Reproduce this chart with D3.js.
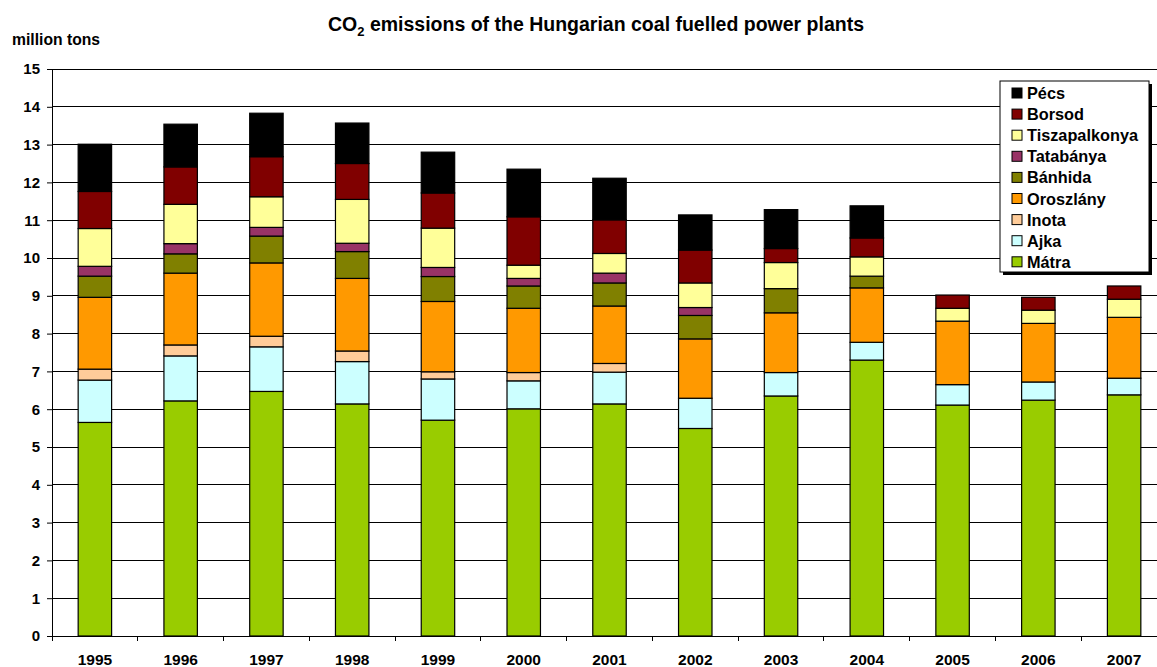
<!DOCTYPE html>
<html>
<head>
<meta charset="utf-8">
<script src="https://cdn.jsdelivr.net/npm/d3@7"></script>
<style>
  body { margin: 0; background: #fff; }
  svg { display: block; font-family: Arial, "Liberation Sans", sans-serif; font-weight: bold; }
</style>
</head>
<body>
<svg id="chart" width="1157" height="667"></svg>
<script>
// years on the x axis
const years = ["1995", "1996", "1997", "1998", "1999", "2000", "2001", "2002", "2003", "2004", "2005", "2006", "2007"];

// plants, bottom to top
const plants = ["Mátra", "Ajka", "Inota", "Oroszlány", "Bánhida", "Tatabánya", "Tiszapalkonya", "Borsod", "Pécs"];
const colors = ["#99cc00", "#ccffff", "#ffcc99", "#ff9900", "#808000", "#993366", "#ffff99", "#800000", "#000000"];

// million tons
const matra     = [5.65, 6.22, 6.47, 6.14, 5.71, 6.01, 6.14, 5.49, 6.35, 7.30, 6.11, 6.24, 6.38];
const ajka      = [1.12, 1.19, 1.18, 1.12, 1.09, 0.74, 0.84, 0.80, 0.62, 0.47, 0.54, 0.48, 0.44];
const inota     = [0.29, 0.29, 0.28, 0.28, 0.19, 0.22, 0.23, 0, 0, 0, 0, 0, 0];
const oroszlany = [1.90, 1.90, 1.94, 1.92, 1.86, 1.70, 1.52, 1.57, 1.58, 1.44, 1.68, 1.55, 1.61];
const banhida   = [0.56, 0.51, 0.71, 0.71, 0.66, 0.59, 0.61, 0.62, 0.64, 0.31, 0, 0, 0];
const tatabanya = [0.26, 0.27, 0.23, 0.22, 0.24, 0.20, 0.26, 0.21, 0, 0, 0, 0, 0];
const tisza     = [1.00, 1.04, 0.81, 1.16, 1.04, 0.35, 0.52, 0.65, 0.69, 0.51, 0.34, 0.35, 0.48];
const borsod    = [0.98, 0.99, 1.06, 0.95, 0.93, 1.28, 0.89, 0.87, 0.37, 0.50, 0.35, 0.34, 0.35];
const pecs      = [1.25, 1.13, 1.15, 1.07, 1.08, 1.26, 1.10, 0.93, 1.03, 0.85, 0, 0, 0];

const series = [matra, ajka, inota, oroszlany, banhida, tatabanya, tisza, borsod, pecs];
const yTicks = d3.range(0, 16);

const svg = d3.select("#chart");
const plotLeft = 52, plotTop = 69, plotBottom = 636, plotRight = 1167;

const x = d3.scaleBand().domain(years).range([plotLeft, plotRight]).paddingInner(0.61).paddingOuter(0.305);
const y = d3.scaleLinear().domain([0, 15]).range([plotBottom, plotTop]);

// rows for the stack
const rows = years.map((yr, i) => {
    let r = { year: yr };
    plants.forEach((p, j) => { r[p] = series[j][i]; });
    return r;
});
const stacked = d3.stack().keys(plants)(rows);

// grid lines
svg.append("g")
    .selectAll("line")
    .data(yTicks.filter(t => t > 0))
    .join("line")
    .attr("x1", plotLeft).attr("x2", plotRight)
    .attr("y1", d => y(d)).attr("y2", d => y(d))
    .attr("stroke", "#000").attr("stroke-width", 1)
    .attr("shape-rendering", "crispEdges");

// y axis
const yAxis = svg.append("g")
    .attr("transform", `translate(${plotLeft},0)`)
    .call(d3.axisLeft(y).tickValues(yTicks).tickSize(5).tickPadding(7).tickFormat(d3.format("d")));
yAxis.select(".domain").attr("stroke", "#000");
yAxis.selectAll("line").attr("stroke", "#000");
yAxis.selectAll("text").attr("font-size", 15).attr("font-weight", "bold").attr("fill", "#000");

// x axis with ticks between categories
const xAxis = svg.append("g").attr("transform", `translate(0,${plotBottom})`);
xAxis.append("line").attr("x1", plotLeft).attr("x2", plotRight).attr("stroke", "#000").attr("shape-rendering", "crispEdges");
xAxis.selectAll("line.tick")
    .data(d3.range(0, years.length + 1))
    .join("line")
    .attr("class", "tick")
    .attr("x1", i => plotLeft + i * x.step()).attr("x2", i => plotLeft + i * x.step())
    .attr("y1", 0).attr("y2", 5)
    .attr("stroke", "#000").attr("shape-rendering", "crispEdges");
xAxis.selectAll("text")
    .data(years)
    .join("text")
    .attr("x", d => x(d) + x.bandwidth() / 2)
    .attr("y", 28.5)
    .attr("text-anchor", "middle")
    .attr("font-size", 15.5)
    .text(d => d);

// bars
svg.append("g")
    .selectAll("g")
    .data(stacked)
    .join("g")
    .attr("fill", (d, i) => colors[i])
    .selectAll("rect")
    .data(d => d.filter(s => s[1] - s[0] > 0))
    .join("rect")
    .attr("x", d => x(d.data.year))
    .attr("width", x.bandwidth())
    .attr("y", d => y(d[1]))
    .attr("height", d => y(d[0]) - y(d[1]))
    .attr("stroke", "#000")
    .attr("stroke-width", 1.2);

// title
const title = svg.append("text")
    .attr("x", 596).attr("y", 31)
    .attr("text-anchor", "middle")
    .attr("font-size", 19.5);
title.append("tspan").text("CO");
title.append("tspan").attr("font-size", 13).attr("dy", 4.5).text("2");
title.append("tspan").attr("dy", -4.5).text(" emissions of the Hungarian coal fuelled power plants");

svg.append("text")
    .attr("x", 12).attr("y", 45)
    .attr("font-size", 15.7)
    .text("million tons");

// legend
const lg = svg.append("g").attr("transform", "translate(1000,81)");
lg.append("rect").attr("x", 3).attr("y", 3).attr("width", 149).attr("height", 191).attr("fill", "#000");
lg.append("rect").attr("width", 149).attr("height", 191).attr("fill", "#fff").attr("stroke", "#000");
const items = lg.selectAll("g.item")
    .data(plants.slice().reverse())
    .join("g")
    .attr("class", "item")
    .attr("transform", (d, i) => `translate(12,${12 + i * 21.1})`);
items.append("rect")
    .attr("x", 0).attr("y", -5).attr("width", 10).attr("height", 10)
    .attr("fill", d => colors[plants.indexOf(d)])
    .attr("stroke", "#000");
items.append("text")
    .attr("x", 15).attr("y", 6)
    .attr("font-size", 16.3)
    .text(d => d);
</script>
</body>
</html>
